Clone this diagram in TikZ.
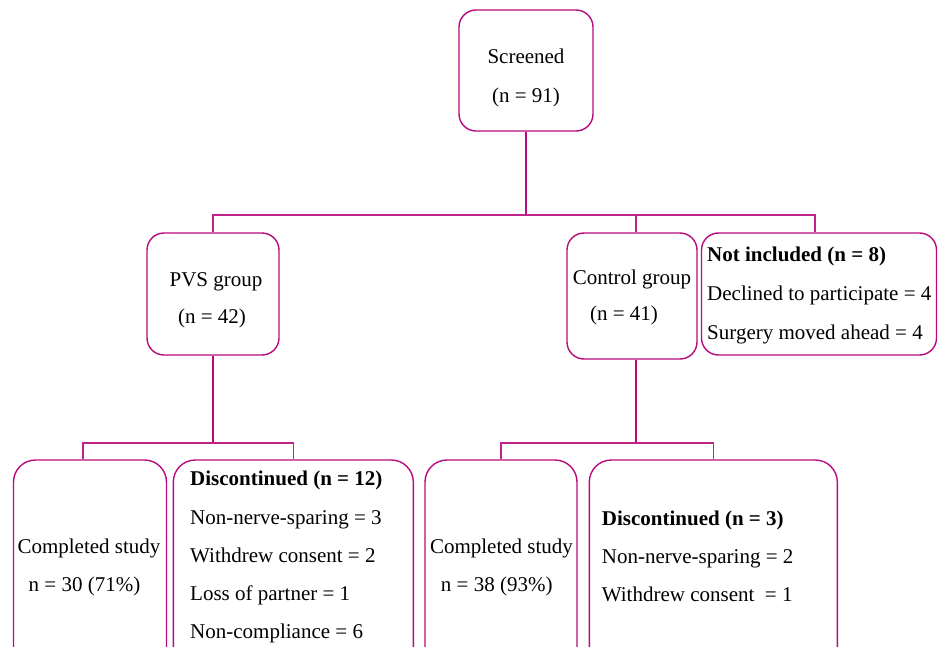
\documentclass[tikz,border=0pt]{standalone}
\usepackage{fontspec}
\setmainfont{Liberation Serif}
\usepackage{xcolor}
\definecolor{flowpink}{RGB}{185,10,125}

\begin{document}
\begin{tikzpicture}
[x=1pt,y=-1pt,
font=\fontsize{21}{25}\selectfont,
box/.style={rectangle,draw=flowpink,line width=1.4pt,rounded corners=17pt,inner sep=0pt},
bigbox/.style={box,rounded corners=22pt},
link/.style={draw=flowpink!90,line width=1.1pt},
trunk/.style={draw=flowpink,line width=2.4pt},
txt/.style={inner sep=0pt,anchor=base},
lst/.style={inner sep=0pt,anchor=base west}]
\clip (0,0) rectangle (944,646);
% boxes
\node at (526,70.5) [box,minimum width=134,minimum height=121] (scr) {};
\node at (213,294) [box,minimum width=132,minimum height=122] (pvs) {};
\node at (632,296) [box,minimum width=130,minimum height=126] (ctl) {};
\node at (819,294) [box,minimum width=235,minimum height=122] (nin) {};
\node at (90,570) [bigbox,minimum width=153,minimum height=220] (cpv) {};
\node at (293.3,570) [bigbox,minimum width=240,minimum height=220] (dpv) {};
\node at (501,570) [bigbox,minimum width=152,minimum height=220] (cct) {};
\node at (713.3,570) [bigbox,minimum width=248,minimum height=220] (dct) {};
% texts
\node at (526,63) [txt] (scrA) {Screened};
\node at (526,102) [txt] (scrB) {(n = 91)};
\node at (216,286) [txt] (pvsA) {PVS group};
\node at (212,323) [txt] (pvsB) {(n = 42)};
\node at (632,284) [txt] (ctlA) {Control group};
\node at (624,320) [txt] (ctlB) {(n = 41)};
\node at (707,261.5) [lst] (ninA) {\textbf{Not included (n = 8)}};
\node at (707,300) [lst] (ninB) {Declined to participate = 4};
\node at (707,339) [lst] (ninC) {Surgery moved ahead = 4};
\node at (89,553) [txt] (cpvA) {Completed study};
\node at (84.5,591.5) [txt] (cpvB) {n = 30 (71\%)};
\node at (190,485) [lst] (dpvA) {\textbf{Discontinued (n = 12)}};
\node at (190,524) [lst] (dpvB) {Non-nerve-sparing = 3};
\node at (190,562) [lst] (dpvC) {Withdrew consent = 2};
\node at (190,600) [lst] (dpvD) {Loss of partner = 1};
\node at (190,638) [lst] (dpvE) {Non-compliance = 6};
\node at (501.5,553) [txt] (cctA) {Completed study};
\node at (496.7,591.5) [txt] (cctB) {n = 38 (93\%)};
\node at (601.7,525) [lst] (dctA) {\textbf{Discontinued (n = 3)}};
\node at (601.7,563.3) [lst] (dctB) {Non-nerve-sparing = 2};
\node at (601.7,601.7) [lst] (dctC) {Withdrew consent \ = 1};
% connectors
\coordinate (topsplit) at (526,215);
\coordinate (pvssplit) at (213,443);
\coordinate (ctlsplit) at (636,443);
\draw[trunk] (scr) -- (topsplit);
\draw[link] (pvs.north) |- (topsplit) -| ([xshift=-4pt]nin.north);
\draw[link] ([xshift=4pt]ctl.north) -- ([xshift=4pt]ctl.north |- topsplit);
\draw[trunk] (pvs) -- (pvssplit);
\draw[link] ([xshift=-7pt]cpv.north) |- (pvssplit) -| (dpv.north);
\draw[trunk] ([xshift=4pt]ctl.south) -- (ctlsplit);
\draw[link] (cct.north) |- (ctlsplit) -| (dct.north);
\end{tikzpicture}
\end{document}
